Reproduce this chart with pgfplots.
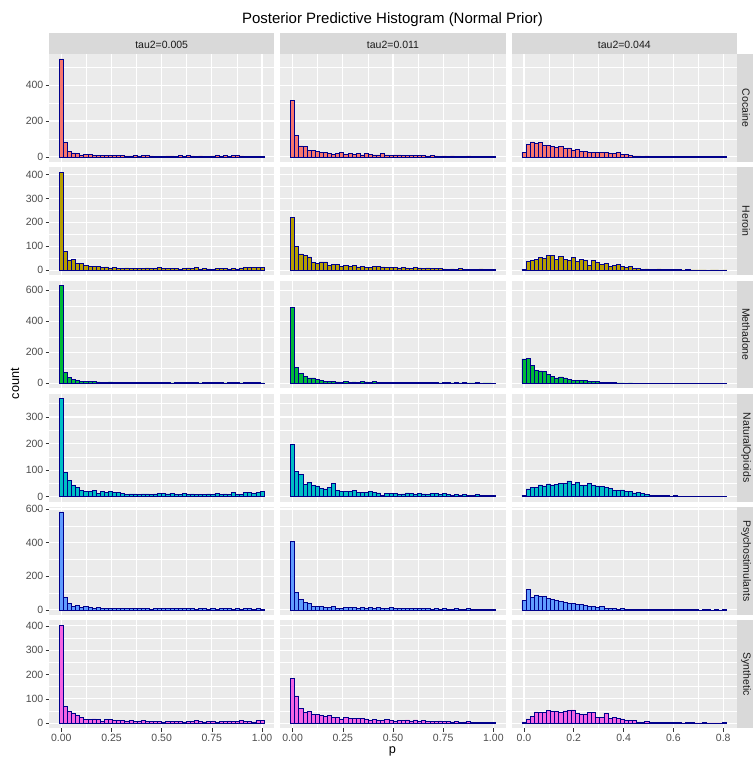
\documentclass[border=0pt]{standalone}
\usepackage{fontspec}
\setmainfont{Liberation Sans}
\usepackage{pgfplots}
\usepackage{pgfplotstable}
\pgfplotsset{compat=1.18}

\definecolor{panelbg}{HTML}{EBEBEB}
\definecolor{stripbg}{HTML}{D9D9D9}
\definecolor{ticklab}{HTML}{4D4D4D}
\definecolor{tickcol}{HTML}{333333}
\definecolor{striptxt}{HTML}{1A1A1A}
\definecolor{outline}{HTML}{00008B}
\definecolor{cCoc}{HTML}{F8766D}
\definecolor{cHer}{HTML}{B79F00}
\definecolor{cMet}{HTML}{00BA38}
\definecolor{cNat}{HTML}{00BFC4}
\definecolor{cPsy}{HTML}{619CFF}
\definecolor{cSyn}{HTML}{F564E3}

% counts per bin (b = bin index, 50 bins; row 50 only closes the last interval)
% t1: tau2=0.005, t2: tau2=0.011, t3: tau2=0.044
\pgfplotstableread{
b t1 t2 t3
0 547 314 24
1 80 118 68
2 29 61 83
3 22 59 75
4 19 34 80
5 11 36 66
6 15 30 64
7 12 25 58
8 8 23 53
9 10 21 57
10 8 15 47
11 9 19 50
12 8 23 39
13 9 15 43
14 9 17 30
15 6 13 30
16 5 17 24
17 5 11 24
18 7 19 23
19 5 13 27
20 9 11 23
21 6 11 17
22 5 17 19
23 3 11 24
24 4 10 15
25 3 11 13
26 5 11 6
27 5 8 5
28 4 7 5
29 6 9 4
30 4 6 5
31 7 7 3
32 5 6 4
33 4 5 3
34 5 6 3
35 4 5 4
36 4 4 2
37 5 5 3
38 7 4 2
39 4 5 3
40 6 3 2
41 3 4 1
42 6 4 2
43 6 5 2
44 5 3 1
45 4 4 1
46 3 3 1
47 4 4 1
48 4 3 1
49 3 2 2
50 0 0 0
}\tabCoc

\pgfplotstableread{
b t1 t2 t3
0 410 222 4
1 77 99 35
2 42 68 42
3 43 63 46
4 28 55 54
5 28 32 49
6 20 28 62
7 17 34 62
8 14 34 46
9 17 18 56
10 10 24 45
11 13 24 42
12 9 14 52
13 10 21 35
14 8 17 44
15 8 20 39
16 9 13 18
17 8 17 42
18 8 10 31
19 8 10 24
20 7 14 28
21 9 14 17
22 7 13 18
23 7 10 22
24 11 10 14
25 8 11 11
26 6 9 14
27 6 12 8
28 8 9 8
29 5 8 4
30 7 10 5
31 9 9 3
32 7 8 4
33 11 9 5
34 5 7 3
35 6 6 2
36 5 7 3
37 4 5 2
38 8 4 2
39 6 5 1
40 8 4 2
41 5 6 1
42 6 3 1
43 5 4 1
44 9 4 1
45 11 3 0
46 12 5 1
47 11 3 1
48 12 4 0
49 11 3 1
50 0 0 0
}\tabHer

\pgfplotstableread{
b t1 t2 t3
0 632 492 158
1 71 104 162
2 39 65 114
3 24 45 82
4 19 35 80
5 13 35 76
6 15 26 60
7 11 19 47
8 11 15 35
9 9 13 41
10 8 10 35
11 7 9 28
12 9 8 19
13 6 10 19
14 8 7 19
15 6 9 17
16 5 8 15
17 6 10 11
18 4 9 11
19 5 8 6
20 4 11 5
21 8 7 4
22 5 6 4
23 4 8 3
24 5 6 3
25 4 5 2
26 6 7 3
27 3 6 2
28 5 5 2
29 4 5 1
30 6 4 2
31 4 6 1
32 5 5 1
33 4 4 1
34 3 5 1
35 5 4 1
36 4 3 1
37 5 5 1
38 6 4 1
39 4 3 1
40 3 4 0
41 5 3 1
42 6 4 1
43 4 3 0
44 3 3 1
45 4 4 1
46 7 2 0
47 5 3 1
48 4 3 0
49 3 2 1
50 0 0 0
}\tabMet

\pgfplotstableread{
b t1 t2 t3
0 369 198 5
1 90 95 29
2 60 84 35
3 43 45 33
4 35 55 44
5 24 43 40
6 20 40 48
7 20 31 44
8 22 29 45
9 13 34 49
10 20 49 49
11 15 23 59
12 19 20 46
13 15 21 55
14 16 20 41
15 13 23 43
16 9 15 49
17 10 15 41
18 10 16 40
19 9 21 39
20 10 15 36
21 10 14 31
22 9 6 23
23 10 13 24
24 11 11 25
25 12 12 18
26 10 9 18
27 13 10 14
28 8 14 16
29 9 11 11
30 11 9 9
31 9 12 6
32 10 10 5
33 8 8 4
34 9 12 3
35 8 13 4
36 10 9 2
37 9 11 3
38 12 8 2
39 8 6 1
40 10 9 2
41 9 5 1
42 15 7 1
43 8 6 1
44 9 5 1
45 16 7 0
46 15 5 1
47 13 4 0
48 16 5 1
49 18 3 1
50 0 0 0
}\tabNat

\pgfplotstableread{
b t1 t2 t3
0 583 408 54
1 74 103 121
2 36 62 76
3 18 44 84
4 24 36 80
5 14 20 78
6 18 18 66
7 16 18 60
8 10 14 56
9 14 14 48
10 8 18 44
11 8 8 40
12 7 10 38
13 9 16 34
14 8 12 30
15 10 12 28
16 6 10 20
17 8 12 20
18 6 11 14
19 7 12 18
20 6 7 10
21 8 13 10
22 5 11 6
23 10 10 5
24 8 12 6
25 7 9 4
26 6 8 5
27 7 10 4
28 6 7 3
29 6 8 4
30 7 6 2
31 6 9 3
32 7 7 2
33 5 6 2
34 6 5 1
35 7 7 2
36 5 5 1
37 6 6 1
38 5 4 2
39 7 5 1
40 6 6 1
41 8 4 1
42 5 5 1
43 6 6 0
44 5 4 1
45 7 5 1
46 6 4 0
47 5 5 1
48 6 4 0
49 5 5 1
50 0 0 0
}\tabPsy

\pgfplotstableread{
b t1 t2 t3
0 403 183 5
1 68 112 17
2 48 61 26
3 41 46 46
4 30 47 43
5 25 36 43
6 15 36 52
7 15 30 47
8 17 29 47
9 14 32 44
10 7 25 50
11 15 23 51
12 15 17 54
13 10 23 41
14 12 18 34
15 11 18 36
16 9 19 43
17 10 19 43
18 8 17 22
19 9 12 22
20 12 14 40
21 8 10 18
22 6 12 22
23 6 15 19
24 6 11 17
25 5 9 11
26 7 12 12
27 6 11 10
28 6 13 5
29 8 9 4
30 5 13 6
31 6 8 4
32 8 10 3
33 10 6 4
34 7 8 3
35 5 7 2
36 8 9 3
37 9 6 2
38 5 7 2
39 8 5 1
40 6 6 2
41 9 4 2
42 7 5 1
43 6 6 1
44 10 3 2
45 7 4 1
46 6 4 1
47 5 3 1
48 10 4 1
49 12 2 3
50 0 0 0
}\tabSyn

\pgfplotsset{
  panel/.style={
    anchor=north west, width=225.33pt, height=107.75pt, scale only axis,
    axis background/.style={fill=panelbg},
    axis line style={draw=none},
    grid=both,
    major grid style={white, line width=1.1pt},
    minor grid style={white, line width=0.55pt},
    tick align=outside, tickpos=left,
    major tick length=3.5pt, minor tick length=0pt,
    tick style={tickcol, line width=0.6pt},
    ticklabel style={font=\fontsize{10.5}{12}\selectfont, text=ticklab},
    xticklabel style={inner sep=0pt, yshift=-2pt},
    yticklabel style={inner sep=0pt, xshift=-2pt},
    scaled ticks=false,
  },
  colA/.style={xmin=-0.06122, xmax=1.06122, xtick={0,0.25,0.5,0.75,1},
    minor xtick={0.125,0.375,0.625,0.875}, xticklabels={0.00,0.25,0.50,0.75,1.00}},
  colB/.style={xmin=-0.04935, xmax=0.85535, xtick={0,0.2,0.4,0.6,0.8},
    minor xtick={0.1,0.3,0.5,0.7}, xticklabels={0.0,0.2,0.4,0.6,0.8}},
  r1/.style={ymin=-27.35, ymax=574.35, ytick={0,200,400},
    minor ytick={100,300,500}, yticklabels={0,200,400}},
  r2/.style={ymin=-20.5, ymax=430.5, ytick={0,100,200,300,400},
    minor ytick={50,150,250,350}, yticklabels={0,100,200,300,400}},
  r3/.style={ymin=-31.6, ymax=663.6, ytick={0,200,400,600},
    minor ytick={100,300,500}, yticklabels={0,200,400,600}},
  r4/.style={ymin=-18.45, ymax=387.45, ytick={0,100,200,300},
    minor ytick={50,150,250,350}, yticklabels={0,100,200,300}},
  r5/.style={ymin=-29.15, ymax=612.15, ytick={0,200,400,600},
    minor ytick={100,300,500}, yticklabels={0,200,400,600}},
  r6/.style={ymin=-20.15, ymax=423.15, ytick={0,100,200,300,400},
    minor ytick={50,150,250,350}, yticklabels={0,100,200,300,400}},
  hidex/.style={xticklabels={}, xmajorticks=false},
  hidey/.style={yticklabels={}, ymajorticks=false},
}

% #1 left, #2 top (pt), #3 styles, #4 table, #5 column, #6 fill, #7 bin width
\newcommand\panel[7]{%
  \begin{axis}[panel, at={(#1pt,-#2pt)}, #3]
    \addplot[ybar interval, fill=#6, draw=outline, line width=0.7pt]
      table[x expr={\thisrow{b}*#7-#7/2}, y=#5] {#4};
  \end{axis}}

\begin{document}
\begin{tikzpicture}
\useasboundingbox (0pt,0pt) rectangle (752pt,-757pt);

\panel{49}{54}{colA,r1,hidex}{\tabCoc}{t1}{cCoc}{0.020408}
\panel{280.33}{54}{colA,r1,hidex,hidey}{\tabCoc}{t2}{cCoc}{0.020408}
\panel{511.67}{54}{colB,r1,hidex,hidey}{\tabCoc}{t3}{cCoc}{0.016449}

\panel{49}{167.25}{colA,r2,hidex}{\tabHer}{t1}{cHer}{0.020408}
\panel{280.33}{167.25}{colA,r2,hidex,hidey}{\tabHer}{t2}{cHer}{0.020408}
\panel{511.67}{167.25}{colB,r2,hidex,hidey}{\tabHer}{t3}{cHer}{0.016449}

\panel{49}{280.5}{colA,r3,hidex}{\tabMet}{t1}{cMet}{0.020408}
\panel{280.33}{280.5}{colA,r3,hidex,hidey}{\tabMet}{t2}{cMet}{0.020408}
\panel{511.67}{280.5}{colB,r3,hidex,hidey}{\tabMet}{t3}{cMet}{0.016449}

\panel{49}{393.75}{colA,r4,hidex}{\tabNat}{t1}{cNat}{0.020408}
\panel{280.33}{393.75}{colA,r4,hidex,hidey}{\tabNat}{t2}{cNat}{0.020408}
\panel{511.67}{393.75}{colB,r4,hidex,hidey}{\tabNat}{t3}{cNat}{0.016449}

\panel{49}{507}{colA,r5,hidex}{\tabPsy}{t1}{cPsy}{0.020408}
\panel{280.33}{507}{colA,r5,hidex,hidey}{\tabPsy}{t2}{cPsy}{0.020408}
\panel{511.67}{507}{colB,r5,hidex,hidey}{\tabPsy}{t3}{cPsy}{0.016449}

\panel{49}{620.25}{colA,r6}{\tabSyn}{t1}{cSyn}{0.020408}
\panel{280.33}{620.25}{colA,r6,hidey}{\tabSyn}{t2}{cSyn}{0.020408}
\panel{511.67}{620.25}{colB,r6,hidey}{\tabSyn}{t3}{cSyn}{0.016449}

% facet strips
\foreach \l/\t in {49/0.005, 280.33/0.011, 511.67/0.044} {
  \fill[stripbg] (\l pt,-33pt) rectangle ++(225.33pt,-21pt);
  \node[anchor=base, text=striptxt, font=\fontsize{10.5}{12}\selectfont]
    at ({\l pt+112.67pt},-48.2pt) {tau2=\t};
}
\foreach \tp/\name in {54/Cocaine, 167.25/Heroin, 280.5/Methadone,
    393.75/NaturalOpioids, 507/Psychostimulants, 620.25/Synthetic} {
  \fill[stripbg] (737pt,-\tp pt) rectangle ++(20pt,-107.75pt);
  \node[rotate=-90, text=striptxt, font=\fontsize{10.5}{12}\selectfont]
    at (746pt,{-\tp pt-53.875pt}) {\name};
}

\node[anchor=base, font=\fontsize{15}{18}\selectfont] at (392.5pt,-24pt)
  {Posterior Predictive Histogram (Normal Prior)};
\node[rotate=90, anchor=base, font=\fontsize{12.7}{15}\selectfont] at (19pt,-383.5pt) {count};
\node[anchor=base, font=\fontsize{12.7}{15}\selectfont] at (392.5pt,-753.3pt) {p};
\end{tikzpicture}
\end{document}
